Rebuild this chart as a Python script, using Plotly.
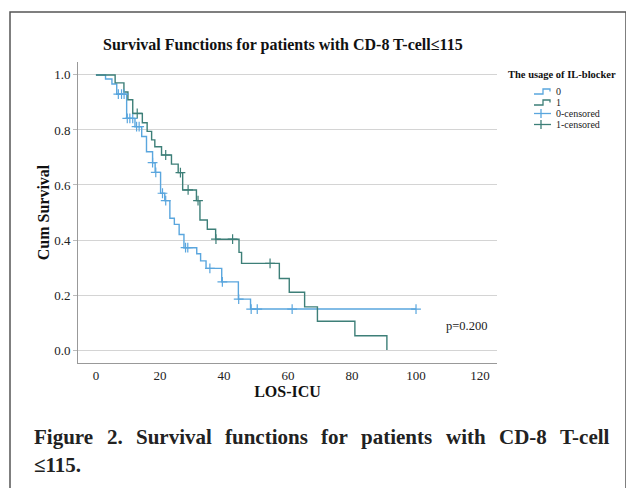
import plotly.graph_objects as go

# ---- data ----
# group 0 (IL-blocker = 0): event times and survival after each step
times0 = [3, 5, 6.5, 9.6, 12.2, 14.3, 15.8, 17.7, 18.5, 20.2, 21.5, 23.1, 24.5, 26, 27.5,
          31.5, 32.7, 34.4, 39.3, 44.5, 48.3]
surv0 = [0.985, 0.967, 0.93, 0.842, 0.812, 0.776, 0.721, 0.681, 0.646, 0.57, 0.543, 0.479,
         0.457, 0.42, 0.372, 0.35, 0.324, 0.297, 0.248, 0.185, 0.149]
censor0 = [7, 8, 8.8, 9.8, 10.6, 11.5, 12.7, 13.5, 17.7, 18.7, 20.8, 21.8, 28, 28.7, 35.6,
           39.5, 44.6, 48.5, 50.4, 61.3, 100]

# group 1 (IL-blocker = 1)
times1 = [6.0, 8.75, 10.0, 11.5, 14.5, 16.0, 17.4, 18.4, 20.5, 23.6, 25.7, 27.1, 31.4, 32.5,
          34.8, 37.4, 44.7, 45.5, 57.3, 60.4, 65.2, 69.2, 80.9, 90.9]
surv1 = [0.971, 0.938, 0.91, 0.86, 0.826, 0.795, 0.764, 0.739, 0.709, 0.676, 0.645, 0.582,
         0.543, 0.473, 0.439, 0.403, 0.355, 0.315, 0.26, 0.21, 0.157, 0.105, 0.052, 0.0]
censor1 = [12.9, 21.8, 26.4, 28.8, 31.9, 37.5, 42.7, 54.4]

x_ticks = [0, 20, 40, 60, 80, 100, 120]
y_ticks = [0.0, 0.2, 0.4, 0.6, 0.8, 1.0]
legend_title = "The usage of IL-blocker"
legend_labels = ["0", "1", "0-censored", "1-censored"]
caption_line1 = "Figure 2. Survival functions for patients with CD-8 T-cell"
caption_line2 = "≤115."

COL0 = "#5aa6de"
COL1 = "#3d7f78"
SERIF = "Liberation Serif, Times New Roman, serif"
TXT = "#222"


def step_value(t, times, surv):
    s = 1.0
    for ti, si in zip(times, surv):
        if ti <= t:
            s = si
    return s


def curve(times, surv, censors):
    xs = [0] + list(times)
    ys = [1.0] + list(surv)
    last = max(censors)
    if last > xs[-1]:
        xs.append(last)
        ys.append(ys[-1])
    return xs, ys


fig = go.Figure()

x0, y0 = curve(times0, surv0, censor0)
x1, y1 = curve(times1, surv1, censor1)

fig.add_trace(go.Scatter(x=x0, y=y0, mode="lines", line=dict(color=COL0, width=1.4, shape="hv"),
                         name="0"))
fig.add_trace(go.Scatter(x=x1, y=y1, mode="lines", line=dict(color=COL1, width=1.4, shape="hv"),
                         name="1"))
fig.add_trace(go.Scatter(x=censor0, y=[step_value(t, times0, surv0) for t in censor0],
                         mode="markers", name="0-censored",
                         marker=dict(symbol="cross-thin", size=7, color=COL0,
                                     line=dict(color=COL0, width=1.2))))
fig.add_trace(go.Scatter(x=censor1, y=[step_value(t, times1, surv1) for t in censor1],
                         mode="markers", name="1-censored",
                         marker=dict(symbol="cross-thin", size=7, color=COL1,
                                     line=dict(color=COL1, width=1.2))))

# The page body has an 8px margin, so the figure is laid out in page pixels minus 8.
OFF = 8
L, R, T, B = 78 - OFF, 497 - OFF, 62 - OFF, 363 - OFF
W, H = 634 - OFF, 488 - OFF


def px(x):
    return (x - OFF - L) / (R - L)


def py(y):
    return (B - (y - OFF)) / (B - T)


fig.update_layout(
    width=W, height=H,
    margin=dict(l=L, r=W - R, t=T, b=H - B, autoexpand=False),
    paper_bgcolor="white", plot_bgcolor="white",
    font=dict(family=SERIF, size=11, color=TXT),
    showlegend=False,
    xaxis=dict(
        range=[-5.6, 125.3], tickvals=x_ticks, ticktext=[str(v) for v in x_ticks],
        showgrid=False, zeroline=False, showline=True, linecolor="#999", linewidth=1,
        ticks="", tickfont=dict(size=13, family=SERIF, color=TXT),
        title=dict(text="<b>LOS-ICU</b>", font=dict(size=16, family=SERIF, color="#111"),
                   standoff=3),
    ),
    yaxis=dict(
        range=[-0.047, 1.047], tickvals=y_ticks, ticktext=[f"{v:.1f}" for v in y_ticks],
        showgrid=True, gridcolor="#d4d4d4", gridwidth=1, zeroline=False,
        showline=True, linecolor="#999", linewidth=1,
        ticks="outside", ticklen=4, tickcolor="#bbb",
        tickfont=dict(size=13, family=SERIF, color=TXT),
        title=dict(text="<b>Cum Survival</b>", font=dict(size=16, family=SERIF, color="#111"),
                   standoff=0),
    ),
)

# chart title
fig.add_annotation(text="<b>Survival Functions for patients with CD-8 T-cell≤115</b>",
                   xref="paper", yref="paper", x=px(282.5), y=py(45),
                   showarrow=False, font=dict(size=16, family=SERIF, color="#111"),
                   xanchor="center", yanchor="middle")

# p value
fig.add_annotation(text="p=0.200", xref="paper", yref="paper", x=px(444), y=py(326),
                   showarrow=False, font=dict(size=12.5, family=SERIF, color=TXT),
                   xanchor="left", yanchor="middle")

# ---- legend (drawn by hand to match the compact SPSS layout) ----
fig.add_annotation(text=f"<b>{legend_title}</b>", xref="paper", yref="paper",
                   x=px(506), y=py(75), showarrow=False, xanchor="left", yanchor="middle",
                   font=dict(size=10.5, family=SERIF, color="#111"))
rows = [91.5, 102.5, 113.5, 124.5]
legend_cols = [COL0, COL1, COL0, COL1]
for i, (lab, col, ry) in enumerate(zip(legend_labels, legend_cols, rows)):
    fig.add_annotation(text=lab, xref="paper", yref="paper", x=px(554.5), y=py(ry),
                       showarrow=False, xanchor="left", yanchor="middle", borderpad=0,
                       font=dict(size=10, family=SERIF, color=TXT))
    if i < 2:
        path = (f"M{px(534)},{py(ry + 2.5)} L{px(543)},{py(ry + 2.5)} L{px(543)},{py(ry - 2.5)} "
                f"L{px(550)},{py(ry - 2.5)} L{px(550)},{py(ry)}")
        fig.add_shape(type="path", xref="paper", yref="paper", path=path,
                      line=dict(color=col, width=1.3))
    else:
        fig.add_shape(type="line", xref="paper", yref="paper", x0=px(534), x1=px(551),
                      y0=py(ry), y1=py(ry), line=dict(color=col, width=1.3))
        fig.add_shape(type="line", xref="paper", yref="paper", x0=px(541), x1=px(541),
                      y0=py(ry - 4.5), y1=py(ry + 4.5), line=dict(color=col, width=1.3))

# ---- figure caption (justified first line) ----
TB = {"F": 611, "i": 278, "g": 500, "u": 556, "r": 444, "e": 444, "2": 500, ".": 250,
      "S": 556, "v": 500, "a": 500, "l": 278, "f": 333, "n": 556, "c": 444, "t": 333,
      "o": 500, "s": 389, "p": 556, "w": 722, "h": 556, "C": 722, "D": 722, "-": 333,
      "8": 500, "T": 667}
CAP_SIZE = 21
words = caption_line1.split(" ")
widths = [sum(TB.get(ch, 500) for ch in w) / 1000 * CAP_SIZE for w in words]
left_px, right_px = 33, 610
gap = (right_px - left_px - sum(widths)) / (len(words) - 1)
xpos = left_px
for w, wd in zip(words, widths):
    fig.add_annotation(text=f"<b>{w}</b>", xref="paper", yref="paper", x=px(xpos), y=py(437),
                       showarrow=False, xanchor="left", yanchor="middle", borderpad=0,
                       font=dict(size=CAP_SIZE, family=SERIF, color=TXT))
    xpos += wd + gap
fig.add_annotation(text=f"<b>{caption_line2}</b>",
                   xref="paper", yref="paper", x=px(33), y=py(465), borderpad=0,
                   showarrow=False, font=dict(size=CAP_SIZE, family=SERIF, color=TXT),
                   xanchor="left", yanchor="middle")

# outer frame
fig.add_shape(type="rect", xref="paper", yref="paper",
              x0=px(10), x1=px(626), y0=py(12), y1=py(520),
              line=dict(color="#555", width=1.5), fillcolor="rgba(0,0,0,0)", layer="below")

fig.write_html("out.html")
